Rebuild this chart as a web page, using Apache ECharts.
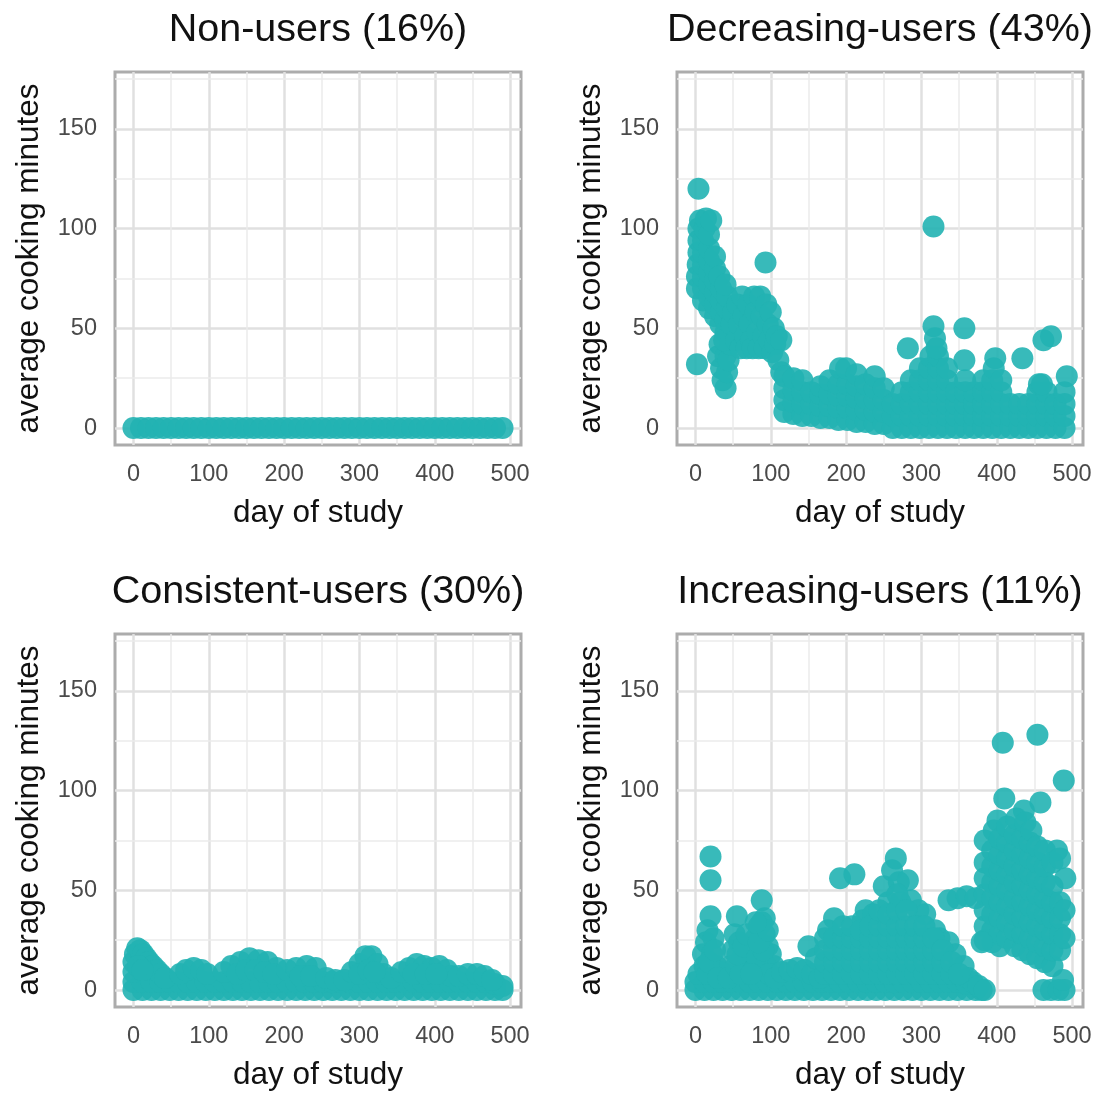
<!DOCTYPE html>
<html>
<head>
<meta charset="utf-8">
<script src="https://cdn.jsdelivr.net/npm/echarts@6/dist/echarts.min.js"></script>
<style>
  html, body { margin: 0; padding: 0; background: #fff; }
  #main { width: 1102px; height: 1093px; }
</style>
</head>
<body>
<div id="main"></div>
<script>
// [day of study, average cooking minutes]
var nonUsers = [
  [0,0],[10,0],[20,0],[30,0],[40,0],[50,0],[60,0],[70,0],[80,0],[90,0],
  [100,0],[110,0],[120,0],[130,0],[140,0],[150,0],[160,0],[170,0],[180,0],[190,0],
  [200,0],[210,0],[220,0],[230,0],[240,0],[250,0],[260,0],[270,0],[280,0],[290,0],
  [300,0],[310,0],[320,0],[330,0],[340,0],[350,0],[360,0],[370,0],[380,0],[390,0],
  [400,0],[410,0],[420,0],[430,0],[440,0],[450,0],[460,0],[470,0],[480,0],[490,0]
];

var decreasingUsers = [
  [4,120],[2,32],
  [2,70],[2,76],[3,82],[4,88],[4,94],[4,100],[6,104],
  [10,64],[10,70],[10,76],[10,82],[10,88],[10,94],[12,100],[14,105],
  [18,60],[18,66],[18,72],[18,78],[18,84],[18,90],[18,97],[21,104],
  [26,56],[26,62],[26,68],[26,74],[26,80],[26,86],
  [33,52],[34,58],[34,64],[34,70],[32,76],
  [40,48],[40,54],[42,60],[42,66],[40,72],
  [30,36],[32,42],[34,30],[36,24],[40,20],[42,28],[40,36],[44,34],[46,42],[48,46],[38,44],
  [48,52],[50,58],[54,44],[56,62],[58,52],[60,40],[62,66],[64,56],[66,46],[68,40],
  [70,62],[72,52],[74,44],[76,40],[78,66],[80,58],[82,48],[84,40],[86,66],[88,56],
  [90,46],[92,40],[94,62],[96,52],[98,44],[100,58],[102,38],[104,50],[106,42],[108,46],
  [114,44],[110,34],[114,28],[93,83],
  [118,8],[118,14],[118,20],[118,26],
  [130,7],[130,13],[130,19],[130,25],
  [142,6],[142,12],[142,18],[142,24],
  [154,6],[154,12],[154,18],
  [166,5],[166,11],[166,17],[166,21],
  [178,5],[178,11],[178,17],[178,24],
  [190,4],[190,10],[190,16],[190,22],[192,30],
  [202,4],[202,10],[202,16],[202,22],[200,30],
  [214,3],[214,9],[214,15],[214,21],[214,27],
  [226,3],[226,9],[226,15],[226,22],
  [238,2],[238,8],[238,14],[238,20],[238,26],
  [250,2],[250,8],[250,14],[250,20],
  [262,0],[262,6],[262,12],
  [274,0],[274,6],[274,12],[274,18],
  [286,0],[286,6],[286,12],[286,18],[286,24],
  [298,0],[298,6],[298,12],[298,18],[298,24],[298,30],
  [310,0],[310,6],[310,12],[310,18],[310,24],[310,30],[312,36],
  [322,0],[322,6],[322,12],[322,18],[322,24],[322,30],[322,36],
  [334,0],[334,6],[334,12],[334,18],[334,24],[334,30],
  [346,0],[346,6],[346,12],[346,18],
  [358,0],[358,6],[358,12],[358,18],
  [370,0],[370,6],[370,12],[370,18],
  [382,0],[382,6],[382,12],[382,18],[382,24],
  [394,0],[394,6],[394,12],[394,18],[394,24],[396,30],
  [406,0],[406,6],[406,12],[406,18],[406,24],
  [418,0],[418,6],[418,12],
  [430,0],[430,6],[430,12],
  [442,0],[442,6],[442,12],
  [454,0],[454,6],[454,12],[454,18],[456,22],
  [466,0],[466,6],[466,12],[466,18],
  [478,0],[478,6],[478,12],
  [490,0],[490,6],[490,12],[490,18],
  [282,40],[316,101],[316,51],[318,45],[320,40],[357,50],[357,34],[358,24],
  [398,35],[434,35],[462,44],[472,46],[493,26],[460,22]
];

var consistentUsers = [
  [0,0],[12,0],[24,0],[36,0],[48,0],[60,0],[72,0],[84,0],[96,0],[108,0],
  [120,0],[132,0],[144,0],[156,0],[168,0],[180,0],[192,0],[204,0],[216,0],[228,0],
  [240,0],[252,0],[264,0],[276,0],[288,0],[300,0],[312,0],[324,0],[336,0],[348,0],
  [360,0],[372,0],[384,0],[396,0],[408,0],[420,0],[432,0],[444,0],[456,0],[468,0],
  [480,0],[490,0],
  [0,4],[12,4],[24,4],[36,4],[48,4],[60,4],[72,4],[84,4],[96,4],[108,4],
  [120,4],[132,4],[144,4],[156,4],[168,4],[180,4],[192,4],[204,4],[216,4],[228,4],
  [240,4],[252,4],[264,4],[276,4],[288,4],[300,4],[312,4],[324,4],[336,4],[348,4],
  [360,4],[372,4],[384,4],[396,4],[408,4],[420,4],[432,4],[444,4],[456,4],[468,4],
  [480,3],[490,2],
  [0,9],[0,14],[2,18],[5,21],[9,20],[13,18],[17,16],[21,14],[26,12],[31,10],[36,8],[42,6],[6,12],[12,10],
  [62,8],[70,10],[80,11],[90,10],[98,8],
  [120,9],[130,12],[142,14],[154,16],[166,15],[178,14],[190,11],
  [138,8],[150,10],[162,10],[174,9],[186,8],
  [204,10],[216,11],[230,12],[242,11],[222,7],[236,7],
  [256,6],[268,5],[280,5],
  [290,9],[300,13],[308,17],[316,17],[324,13],[332,8],[342,6],[300,8],[312,10],[320,9],
  [356,9],[366,11],[376,13],[386,12],[396,11],[406,12],[416,10],[422,7],[372,8],[388,8],[402,8],
  [432,7],[444,8],[456,8],[466,7],[476,5]
];

var increasingUsers = [
  [0,0],[12,0],[24,0],[36,0],[48,0],[60,0],[72,0],[84,0],[96,0],[108,0],
  [120,0],[132,0],[144,0],[156,0],[168,0],[180,0],[192,0],[204,0],[216,0],[228,0],
  [240,0],[252,0],[264,0],[276,0],[288,0],[300,0],[312,0],[324,0],[336,0],[348,0],
  [360,0],[372,0],[380,0],
  [0,4],[12,4],[24,4],[36,4],[48,4],[60,4],[72,4],[84,4],[96,4],[108,4],
  [120,4],[132,4],[144,4],[156,4],[168,4],[180,4],[192,4],[204,4],[216,4],[228,4],
  [240,4],[252,4],[264,4],[276,4],[288,4],[300,4],[312,4],[324,4],[336,4],[348,4],[360,3],
  [4,8],[12,12],[10,18],[14,24],[16,30],[20,37],[20,55],[20,67],[24,26],[22,18],
  [28,12],[34,9],[40,8],[46,12],[50,20],[52,28],[55,37],[58,24],[62,16],[66,10],
  [72,14],[76,20],[80,26],[84,32],[88,45],[88,34],[92,28],[96,22],[100,18],[104,12],[86,18],[94,12],
  [16,8],[18,14],[26,20],[30,6],[44,6],[54,12],[60,8],[56,18],[64,22],[68,28],
  [78,10],[82,16],[90,20],[98,8],[106,6],[84,24],[92,36],[96,30],[80,34],[74,8],
  [115,9],[125,10],[135,11],[145,10],[155,8],[165,6],
  [150,22],[160,16],[176,30],[184,36],[192,56],[211,58],[222,35],[226,40],[236,38],
  [250,52],[256,44],[261,60],[266,66],[270,54],[272,44],[282,55],[286,45],[296,40],[305,38],
  [318,30],[324,26],[336,24],[345,18],[356,12],[362,6],[368,4],[376,2],[384,0],
  [172,8],[172,14],[172,20],[172,26],
  [184,8],[184,14],[184,20],[184,26],
  [196,8],[196,14],[196,20],[196,26],[196,32],
  [208,8],[208,14],[208,20],[208,26],[208,32],
  [220,8],[220,14],[220,20],[220,26],[220,30],
  [232,8],[232,14],[232,20],[232,26],[232,32],
  [244,8],[244,14],[244,20],[244,26],[244,32],[244,40],
  [256,8],[256,14],[256,20],[256,26],[256,32],[256,38],
  [268,8],[268,14],[268,20],[268,26],[268,32],[268,40],[268,48],
  [280,8],[280,14],[280,20],[280,26],[280,32],[280,40],
  [292,8],[292,14],[292,20],[292,26],[292,32],
  [304,8],[304,14],[304,20],[304,26],[304,32],
  [316,8],[316,14],[316,20],[316,26],
  [328,8],[328,14],[328,20],
  [340,8],[340,14],[350,8],
  [336,45],[348,46],[360,47],[372,46],
  [408,124],[454,128],[489,105],[410,96],[458,94],[401,85],[436,90],[384,75],[480,70],[491,56],
  [384,25],[384,32],[384,40],[384,48],[384,56],[384,64],
  [394,24],[394,30],[394,38],[394,46],[394,54],[394,62],[394,70],[396,80],
  [404,22],[404,28],[404,36],[404,44],[404,52],[404,60],[404,68],[404,76],
  [414,26],[414,34],[414,42],[414,50],[414,58],[414,66],[414,74],[414,82],
  [424,22],[424,30],[424,38],[424,46],[424,54],[424,62],[424,70],[424,78],[426,86],
  [434,20],[434,28],[434,36],[434,44],[434,52],[434,60],[434,68],[434,76],[438,84],
  [444,18],[444,26],[444,34],[444,42],[444,50],[444,58],[444,66],[444,74],[446,80],
  [454,16],[454,24],[454,32],[454,40],[454,48],[454,56],[454,64],[454,72],
  [464,14],[464,22],[464,30],[464,38],[464,46],[464,54],[464,62],[464,70],
  [474,12],[474,20],[474,28],[474,36],[474,44],[474,52],[474,64],
  [484,20],[484,28],[484,36],[484,44],[484,66],
  [490,26],[490,40],[380,24],
  [462,0],[472,0],[482,0],[490,0],[488,5]
];

var panelTitles = ['Non-users (16%)', 'Decreasing-users (43%)', 'Consistent-users (30%)', 'Increasing-users (11%)'];
var panelData = [nonUsers, decreasingUsers, consistentUsers, increasingUsers];
var xMinorLines = [50, 150, 250, 350, 450];
var yMinorLines = [25, 75, 125, 175];

var FONT = '"Liberation Sans", Arial, sans-serif';
var lefts = [115, 677, 115, 677];
var tops = [72, 72, 634, 634];
var W = 406, H = 373;

var chart = echarts.init(document.getElementById('main'));

var grids = [], xAxes = [], yAxes = [], titles = [], series = [];
for (var i = 0; i < 4; i++) {
  grids.push({
    left: lefts[i], top: tops[i], width: W, height: H,
    show: true, borderColor: '#acacac', borderWidth: 3, backgroundColor: '#fff'
  });
  titles.push({
    text: panelTitles[i],
    left: lefts[i] + W / 2, top: tops[i] - 62, textAlign: 'center', padding: 0,
    textStyle: { fontFamily: FONT, fontSize: 39.5, fontWeight: 'normal', color: '#111' }
  });
  xAxes.push({
    gridIndex: i, type: 'value', min: -24.5, max: 514.5, splitNumber: 5,
    name: 'day of study', nameLocation: 'middle', nameGap: 52,
    nameTextStyle: { fontFamily: FONT, fontSize: 31.5, color: '#111' },
    axisLine: { show: false }, axisTick: { show: false },
    axisLabel: {
      fontFamily: FONT, fontSize: 23.5, color: '#4a4a4a', margin: 18,
      formatter: function (v) { return v % 100 === 0 ? String(v) : ''; }
    },
    splitLine: { showMinLine: false, showMaxLine: false, lineStyle: { color: '#e0e0e0', width: 2.5 } }
  });
  yAxes.push({
    gridIndex: i, type: 'value', min: -8.5, max: 178.5, splitNumber: 4,
    name: 'average cooking minutes', nameLocation: 'middle', nameGap: 70,
    nameTextStyle: { fontFamily: FONT, fontSize: 31.5, color: '#111' },
    axisLine: { show: false }, axisTick: { show: false },
    axisLabel: {
      fontFamily: FONT, fontSize: 23.5, color: '#4a4a4a', margin: 18,
      formatter: function (v) { return v % 50 === 0 ? String(v) : ''; }
    },
    splitLine: { showMinLine: false, showMaxLine: false, lineStyle: { color: '#e0e0e0', width: 2.5 } }
  });

  // minor grid lines, kept under the points
  var marks = [];
  xMinorLines.forEach(function (v) { marks.push({ xAxis: v }); });
  yMinorLines.forEach(function (v) { marks.push({ yAxis: v }); });
  series.push({
    type: 'scatter', xAxisIndex: i, yAxisIndex: i, data: [], z: 1, silent: true,
    markLine: {
      z: 1, silent: true, symbol: 'none', animation: false,
      label: { show: false },
      lineStyle: { type: 'solid', color: '#ebebeb', width: 1.5 },
      data: marks
    }
  });

  series.push({
    type: 'scatter', xAxisIndex: i, yAxisIndex: i, z: 4,
    symbolSize: 22,
    itemStyle: { color: '#22b2b3', opacity: 0.9 },
    data: panelData[i]
  });
}

chart.setOption({
  animation: false,
  backgroundColor: '#fff',
  title: titles,
  grid: grids,
  xAxis: xAxes,
  yAxis: yAxes,
  series: series
});
</script>
</body>
</html>
